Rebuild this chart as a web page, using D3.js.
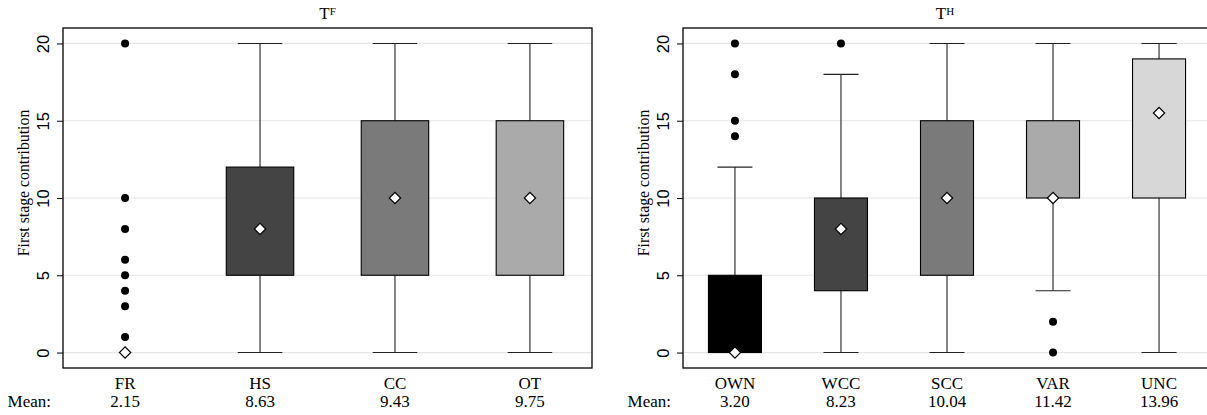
<!DOCTYPE html>
<html>
<head>
<meta charset="utf-8">
<script src="https://cdn.jsdelivr.net/npm/d3@7"></script>
<style>
  body { margin: 0; background: #fff; }
  svg { display: block; }
  .serif { font-family: "Liberation Serif", "Times New Roman", serif; }
  .tick text { font-family: "Liberation Sans", Arial, sans-serif; font-size: 16.5px; fill: #000; }
</style>
</head>
<body>
<svg width="1207" height="415"></svg>
<script>
// panel F
const catsF = ["FR", "HS", "CC", "OT"];
const meansF = ["2.15", "8.63", "9.43", "9.75"];
const q1F = [0, 5, 5, 5];
const medF = [0, 8, 10, 10];
const q3F = [0, 12, 15, 15];
const loF = [0, 0, 0, 0];
const hiF = [0, 20, 20, 20];
const outF = [[20, 10, 8, 6, 5, 4, 3, 1], [], [], []];

// panel H
const catsH = ["OWN", "WCC", "SCC", "VAR", "UNC"];
const meansH = ["3.20", "8.23", "10.04", "11.42", "13.96"];
const q1H = [0, 4, 5, 10, 10];
const medH = [0, 8, 10, 10, 15.5];
const q3H = [5, 10, 15, 15, 19];
const loH = [0, 0, 0, 4, 0];
const hiH = [12, 18, 20, 20, 20];
const outH = [[20, 18, 15, 14], [20], [], [2, 0], []];

const yTicks = [0, 5, 10, 15, 20];
const fills = ["#000000", "#444444", "#7a7a7a", "#aaaaaa", "#d7d7d7"];

const svg = d3.select("svg");
const plotTop = 28, plotBottom = 368;

const y = d3.scaleLinear().domain([-1, 21]).range([plotBottom, plotTop]);

function panel(opt) {
  const { left, right, cats, means, q1, med, q3, lo, hi, out, sup, padding } = opt;
  const g = svg.append("g");

  const x = d3.scalePoint()
    .domain(cats)
    .range([left, right])
    .padding(padding);
  const step = x.step();
  const boxW = step * 0.5;
  const capW = step * 0.33;

  // gridlines
  g.selectAll("line.grid")
    .data(yTicks)
    .enter().append("line")
    .attr("x1", left).attr("x2", right)
    .attr("y1", d => y(d)).attr("y2", d => y(d))
    .attr("stroke", "#e6e6e6")
    .attr("stroke-width", 1.2);

  // y axis
  const ax = g.append("g")
    .attr("transform", `translate(${left},0)`)
    .call(d3.axisLeft(y).tickValues(yTicks).tickSize(6).tickPadding(4));
  ax.select(".domain").remove();
  ax.selectAll(".tick line").attr("stroke", "#000");
  ax.selectAll(".tick text")
    .attr("transform", "rotate(-90)")
    .attr("x", 0)
    .attr("y", -14)
    .attr("dy", "0")
    .style("text-anchor", "middle");

  // y label
  g.append("text")
    .attr("class", "serif")
    .attr("transform", `translate(${left - 34},183) rotate(-90)`)
    .attr("text-anchor", "middle")
    .style("font-size", "15.8px")
    .text("First stage contribution");

  const rows = cats.map((c, i) => ({
    c, i, q1: q1[i], med: med[i], q3: q3[i], lo: lo[i], hi: hi[i], out: out[i], mean: means[i]
  }));

  // whiskers
  rows.forEach(d => {
    const cx = x(d.c);
    if (d.hi > d.q3) {
      g.append("line").attr("x1", cx).attr("x2", cx)
        .attr("y1", y(d.q3)).attr("y2", y(d.hi))
        .attr("stroke", "#222").attr("stroke-width", 1.1);
      g.append("line").attr("x1", cx - capW / 2).attr("x2", cx + capW / 2)
        .attr("y1", y(d.hi)).attr("y2", y(d.hi))
        .attr("stroke", "#222").attr("stroke-width", 1.1);
    }
    if (d.lo < d.q1) {
      g.append("line").attr("x1", cx).attr("x2", cx)
        .attr("y1", y(d.q1)).attr("y2", y(d.lo))
        .attr("stroke", "#222").attr("stroke-width", 1.1);
      g.append("line").attr("x1", cx - capW / 2).attr("x2", cx + capW / 2)
        .attr("y1", y(d.lo)).attr("y2", y(d.lo))
        .attr("stroke", "#222").attr("stroke-width", 1.1);
    }
  });

  // boxes
  g.selectAll("rect.box")
    .data(rows.filter(d => d.q3 > d.q1))
    .enter().append("rect")
    .attr("x", d => x(d.c) - boxW / 2)
    .attr("y", d => y(d.q3))
    .attr("width", boxW)
    .attr("height", d => y(d.q1) - y(d.q3))
    .attr("fill", d => fills[d.i])
    .attr("stroke", "#000")
    .attr("stroke-width", 1.1);

  // outliers
  rows.forEach(d => {
    g.selectAll(null)
      .data(d.out)
      .enter().append("circle")
      .attr("cx", x(d.c))
      .attr("cy", v => y(v))
      .attr("r", 4)
      .attr("fill", "#000");
  });

  // median diamonds
  const diamond = d3.symbol().type(d3.symbolSquare).size(64);
  g.selectAll("path.med")
    .data(rows)
    .enter().append("path")
    .attr("d", diamond)
    .attr("transform", d => `translate(${x(d.c)},${y(d.med)}) rotate(45)`)
    .attr("fill", "#fff")
    .attr("stroke", "#000")
    .attr("stroke-width", 1.2);

  // frame
  g.append("rect")
    .attr("x", left).attr("y", plotTop)
    .attr("width", right - left).attr("height", plotBottom - plotTop)
    .attr("fill", "none")
    .attr("stroke", "#000")
    .attr("stroke-width", 1.3);

  // title
  const t = g.append("text")
    .attr("class", "serif")
    .attr("x", (left + Math.min(right, 1207)) / 2)
    .attr("y", 19)
    .attr("text-anchor", "middle")
    .style("font-size", "17px");
  t.append("tspan").text("T");
  t.append("tspan").attr("dy", -4).style("font-size", "11px").text(sup);

  // category labels and means
  g.selectAll("text.cat")
    .data(rows)
    .enter().append("text")
    .attr("class", "serif")
    .attr("x", d => x(d.c))
    .attr("y", 389)
    .attr("text-anchor", "middle")
    .style("font-size", "17px")
    .text(d => d.c);

  g.selectAll("text.mean")
    .data(rows)
    .enter().append("text")
    .attr("class", "serif")
    .attr("x", d => x(d.c))
    .attr("y", 407)
    .attr("text-anchor", "middle")
    .style("font-size", "17px")
    .text(d => d.mean);

  g.append("text")
    .attr("class", "serif")
    .attr("x", left - 12)
    .attr("y", 407)
    .attr("text-anchor", "end")
    .style("font-size", "17px")
    .text("Mean:");
}

panel({ left: 63, right: 592, cats: catsF, means: meansF, q1: q1F, med: medF, q3: q3F,
  lo: loF, hi: hiF, out: outF, sup: "F", padding: 0.46 });
panel({ left: 683, right: 1211, cats: catsH, means: meansH, q1: q1H, med: medH, q3: q3H,
  lo: loH, hi: hiH, out: outH, sup: "H", padding: 0.49 });
</script>
</body>
</html>
